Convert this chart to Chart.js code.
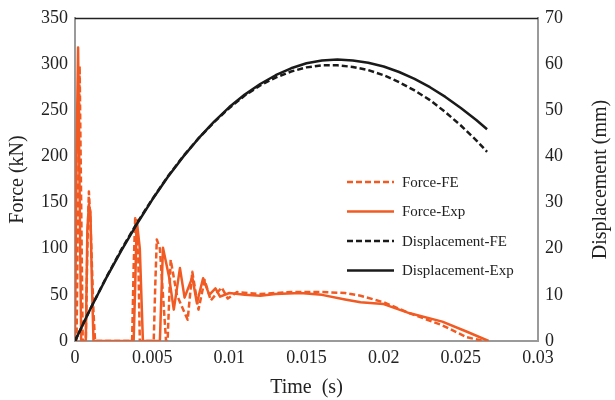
<!DOCTYPE html>
<html>
<head>
<meta charset="utf-8">
<script src="https://cdn.jsdelivr.net/npm/chart.js@4.4.1/dist/chart.umd.min.js"></script>
<style>
  html, body { margin: 0; padding: 0; background: #fff; }
  #wrap { width: 615px; height: 400px; position: relative; }
</style>
</head>
<body>
<div id="wrap"><canvas id="chart"></canvas></div>
<script>
// Force histories (time in s, force in kN)
const forceExpTime = [0, 0.0001, 0.0002, 0.0003, 0.0004, 0.0007, 0.0008, 0.0009, 0.0010, 0.0011, 0.0012,
  0.0038, 0.0039, 0.0040, 0.0042, 0.0044, 0.0055, 0.0057, 0.0061, 0.0064, 0.0068, 0.0071, 0.0076, 0.0079,
  0.0083, 0.0087, 0.0091, 0.0094, 0.0100, 0.0110, 0.0120, 0.0130, 0.0146, 0.0160, 0.0175, 0.0185, 0.0200,
  0.0217, 0.0238, 0.0254, 0.0268];
const forceExpKN = [0, 200, 318, 160, 0, 0, 120, 148, 140, 60, 0,
  0, 60, 131, 100, 0, 0, 101, 69, 34, 79, 47, 69, 41,
  68, 50, 57, 48, 52, 50, 49, 51, 52, 50, 45, 42, 40,
  30, 21, 10, 0];

const forceFeTime = [0, 0.0001, 0.0002, 0.0003, 0.0004, 0.0005, 0.0007, 0.0008, 0.0009, 0.0010, 0.0011, 0.0012, 0.0013,
  0.0037, 0.0038, 0.0039, 0.0041, 0.0042, 0.0051, 0.0052, 0.0053, 0.0055, 0.0057, 0.0059, 0.0060, 0.0062,
  0.0066, 0.0073, 0.0076, 0.0080, 0.0084, 0.0088, 0.0095, 0.0099, 0.0105, 0.0120, 0.0140, 0.0160, 0.0175,
  0.0185, 0.0200, 0.0217, 0.0238, 0.0254, 0.0262, 0.0266];
const forceFeKN = [0, 0, 150, 298, 150, 0, 0, 100, 162, 130, 80, 30, 0,
  0, 80, 133, 90, 0, 0, 60, 110, 100, 50, 0, 0, 88,
  50, 23, 75, 34, 66, 44, 58, 46, 53, 51, 53, 53, 52,
  49, 42, 30, 17, 4, 1, 0];

// Displacement histories (time in s, displacement in mm)
const dispTime = [0, 0.001, 0.002, 0.003, 0.004, 0.005, 0.006, 0.007, 0.008, 0.009, 0.010, 0.011, 0.012, 0.013,
  0.014, 0.015, 0.016, 0.017, 0.018, 0.019, 0.020, 0.021, 0.022, 0.023, 0.024, 0.025, 0.026, 0.0267];
const dispExpMM = [0, 7.0, 13.5, 19.6, 25.3, 30.6, 35.5, 39.9, 43.9, 47.5, 50.7, 53.4, 55.7, 57.6,
  59.1, 60.2, 60.8, 61.0, 60.8, 60.3, 59.5, 58.3, 56.8, 55.0, 52.9, 50.5, 47.9, 45.9];
const dispFeMM = [0, 7.0, 13.6, 19.8, 25.5, 30.7, 35.6, 40.0, 43.9, 47.4, 50.5, 53.2, 55.4, 57.1,
  58.4, 59.3, 59.75, 59.75, 59.4, 58.7, 57.6, 56.1, 54.3, 52.2, 49.6, 46.7, 43.5, 41.0];

const timeTicks = [0, 0.005, 0.01, 0.015, 0.02, 0.025, 0.03];
const timeTickLabels = ['0', '0.005', '0.01', '0.015', '0.02', '0.025', '0.03'];

const ORANGE = '#F15A22';
const BLACK  = '#1a1a1a';
const SERIF  = '"Liberation Serif", "Times New Roman", serif';

const pts = (xs, ys) => xs.map((x, i) => ({ x, y: ys[i] }));

// Top frame line, right-hand title and in-plot legend
const extras = {
  id: 'extras',
  afterDraw(chart) {
    const { ctx, chartArea: a } = chart;
    ctx.save();
    ctx.strokeStyle = '#222';
    ctx.lineWidth = 1.5;
    ctx.beginPath();
    ctx.moveTo(a.left, a.top + 0.5);
    ctx.lineTo(a.right, a.top + 0.5);
    ctx.stroke();

    ctx.fillStyle = '#222';
    ctx.font = '20px ' + SERIF;
    ctx.textAlign = 'center';
    ctx.textBaseline = 'middle';
    ctx.translate(601, (a.top + a.bottom) / 2);
    ctx.rotate(-Math.PI / 2);
    ctx.fillText('Displacement (mm)', 0, 0);
    ctx.restore();

    const order = [1, 0, 3, 2];
    ctx.save();
    ctx.font = '15px ' + SERIF;
    ctx.textBaseline = 'middle';
    ctx.textAlign = 'left';
    order.forEach((di, row) => {
      const ds = chart.data.datasets[di];
      const y = 182 + row * 29.5;
      ctx.strokeStyle = ds.borderColor;
      ctx.lineWidth = ds.borderWidth;
      ctx.setLineDash(ds.borderDash || []);
      ctx.beginPath();
      ctx.moveTo(347, y);
      ctx.lineTo(394, y);
      ctx.stroke();
      ctx.setLineDash([]);
      ctx.fillStyle = '#222';
      ctx.fillText(ds.label, 402, y + 1);
    });
    ctx.restore();
  }
};

new Chart(document.getElementById('chart'), {
  type: 'line',
  data: {
    datasets: [
      { label: 'Force-Exp', data: pts(forceExpTime, forceExpKN), yAxisID: 'yForce',
        borderColor: ORANGE, borderWidth: 2.5, order: 1 },
      { label: 'Force-FE', data: pts(forceFeTime, forceFeKN), yAxisID: 'yForce',
        borderColor: ORANGE, borderWidth: 2.5, borderDash: [6, 3], order: 1 },
      { label: 'Displacement-Exp', data: pts(dispTime, dispExpMM), yAxisID: 'yDisp',
        borderColor: BLACK, borderWidth: 2.5, order: 0 },
      { label: 'Displacement-FE', data: pts(dispTime, dispFeMM), yAxisID: 'yDisp',
        borderColor: BLACK, borderWidth: 2.5, borderDash: [6, 3], order: 0 },
    ],
  },
  options: {
    animation: false,
    responsive: true,
    maintainAspectRatio: false,
    layout: { padding: { top: 18, left: 0, right: 0, bottom: 0 } },
    elements: {
      point: { radius: 0 },
      line: { tension: 0, fill: false, borderJoinStyle: 'round' },
    },
    scales: {
      x: {
        type: 'linear', min: 0, max: 0.03,
        afterBuildTicks: s => { s.ticks = timeTicks.map(v => ({ value: v })); },
        afterFit: s => { s.height = 59; },
        ticks: {
          color: '#222', padding: 6, maxRotation: 0,
          font: { family: SERIF, size: 18 },
          callback: (v, i) => timeTickLabels[i],
        },
        grid: { display: false, drawTicks: false },
        border: { color: '#9a9a9a', width: 2 },
        title: { display: true, text: 'Time  (s)', color: '#222',
                 font: { family: SERIF, size: 20 }, padding: { top: 1, bottom: 0 } },
      },
      yForce: {
        type: 'linear', position: 'left', min: 0, max: 350,
        afterFit: s => { s.width = 75; },
        ticks: { stepSize: 50, color: '#222', padding: 7, font: { family: SERIF, size: 18 } },
        grid: { display: false, drawTicks: false },
        border: { color: '#9a9a9a', width: 2 },
        title: { display: true, text: 'Force (kN)', color: '#222',
                 font: { family: SERIF, size: 20 }, padding: { top: 6, bottom: 0 } },
      },
      yDisp: {
        type: 'linear', position: 'right', min: 0, max: 70,
        afterFit: s => { s.width = 77; },
        ticks: { stepSize: 10, color: '#222', padding: 7, font: { family: SERIF, size: 18 } },
        grid: { display: false, drawTicks: false },
        border: { color: '#9a9a9a', width: 2 },
      },
    },
    plugins: {
      legend: { display: false },
      tooltip: { enabled: false },
    },
  },
  plugins: [extras],
});
</script>
</body>
</html>
